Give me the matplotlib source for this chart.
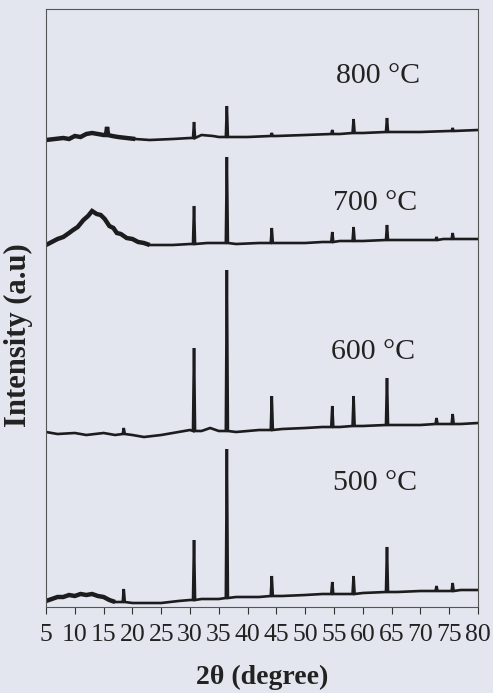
import matplotlib
matplotlib.use("Agg")
import matplotlib.pyplot as plt
import numpy as np

# ---------------- data ----------------
x_ticks = [5, 10, 15, 20, 25, 30, 35, 40, 45, 50, 55, 60, 65, 70, 75, 80]
labels = ["800 °C", "700 °C", "600 °C", "500 °C"]

# 800 °C
b800_x = [5, 6.5, 8, 9, 10, 11, 12, 13, 14, 15, 16.5, 17.5, 19, 20.5, 23, 27, 30, 32, 34, 35, 40, 45, 50, 56, 60, 66, 70, 75, 80]
b800_y = [465, 466, 467, 466, 469, 468, 471, 472, 471, 470, 469, 468, 467, 466, 465, 466, 467, 470, 469, 468, 468, 469, 470, 471, 472, 473, 473, 474, 475]
p800_pos = [15.6, 30.7, 36.4, 44.2, 54.7, 58.4, 64.2, 75.6]
p800_foot = [470, 467, 468, 469, 471, 472, 473, 474]
p800_top = [478, 483, 499, 472, 475, 486, 487, 477]

# 700 °C
b700_x = [5, 6, 7, 8, 9, 9.7, 10.5, 11.5, 12.3, 13, 13.8, 14.5, 15.2, 16, 16.7, 17.3, 18, 19, 20, 21, 22, 23, 27, 30, 33, 35, 38, 42, 46, 50, 53, 56, 60, 66, 70, 74, 77, 80]
b700_y = [360, 363, 366, 368, 372, 375, 378, 385, 389, 394, 391, 390, 386, 379, 377, 372, 371, 367, 366, 363, 362, 360, 360, 361, 362, 362, 361, 362, 362, 362, 363, 364, 364, 365, 365, 366, 366, 366]
p700_pos = [30.7, 36.4, 44.2, 54.7, 58.4, 64.2, 72.8, 75.6]
p700_foot = [361, 362, 362, 363, 364, 365, 365, 366]
p700_top = [399, 448, 377, 373, 378, 380, 368, 372]

# 600 °C
b600_x = [5, 7, 10, 12, 15, 17, 20, 22, 25, 28, 30, 32, 33.5, 35, 38, 42, 46, 50, 53, 56, 60, 66, 70, 74, 77, 80]
b600_y = [173, 171, 172, 170, 172, 170, 170, 168, 170, 173, 175, 174, 177, 174, 173, 175, 176, 177, 178, 178, 179, 180, 180, 181, 181, 182]
p600_pos = [18.5, 30.7, 36.4, 44.2, 54.7, 58.4, 64.2, 72.8, 75.6]
p600_foot = [171, 174, 174, 175, 178, 179, 180, 181, 181]
p600_top = [177, 257, 335, 209, 199, 209, 227, 187, 191]

# 500 °C
b500_x = [5, 6, 7, 8, 9, 10, 11, 12, 13, 14, 15, 16, 17, 20, 25, 28, 30, 32, 35, 38, 42, 46, 50, 53, 56, 60, 66, 70, 74, 77, 80]
b500_y = [4, 6, 8, 8, 10, 9, 11, 10, 11, 9, 8, 5, 3, 2, 2, 4, 5, 6, 6, 8, 8, 9, 10, 11, 11, 12, 13, 14, 14, 15, 15]
p500_pos = [18.5, 30.7, 36.4, 44.2, 54.7, 58.4, 64.2, 72.8, 75.6]
p500_foot = [3, 5, 7, 9, 11, 11, 13, 14, 14]
p500_top = [16, 65, 156, 29, 23, 29, 58, 19, 22]

# label anchor positions (2theta, intensity)
label_x = [62.6, 62.1, 61.8, 62.1]
label_y = [529, 402, 253, 122]

# amorphous hump ranges (drawn as a noisy, thicker band)
hump_range = [(5, 22), (5, 23), None, (5, 17)]

traces = [
    (b800_x, b800_y, p800_pos, p800_foot, p800_top),
    (b700_x, b700_y, p700_pos, p700_foot, p700_top),
    (b600_x, b600_y, p600_pos, p600_foot, p600_top),
    (b500_x, b500_y, p500_pos, p500_foot, p500_top),
]

# ---------------- style ----------------
BG = "#e3e6ee"
INK = "#1c1c1e"
plt.rcParams["font.family"] = ["Liberation Serif", "DejaVu Serif"]

fig = plt.figure(figsize=(4.93, 6.93), dpi=100, facecolor=BG)
ax = fig.add_axes([46 / 493, 1 - 607 / 693, 432 / 493, 598 / 693])
ax.set_facecolor(BG)

half_w = 0.18
for (bx, by, pp, pf, pt), hr in zip(traces, hump_range):
    xs = list(bx)
    ys = list(by)
    for p, f, t in zip(pp, pf, pt):
        xs += [p - half_w, p, p + half_w]
        ys += [f, t, f]
    order = np.argsort(xs, kind="stable")
    xs = np.asarray(xs)[order]
    ys = np.asarray(ys)[order]
    ax.plot(xs, ys, color=INK, lw=1.9, solid_joinstyle="miter")
    if hr is not None:
        m = (xs >= hr[0]) & (xs <= hr[1])
        ax.plot(xs[m], ys[m], color=INK, lw=3.2, solid_capstyle="butt",
                solid_joinstyle="miter")

for txt, lx, ly in zip(labels, label_x, label_y):
    ax.text(lx, ly, txt, ha="center", va="center", fontsize=21.5, color="#222222")

ax.set_xlim(5, 80)
ax.set_ylim(-2, 596)
ax.set_xticks(x_ticks)
ax.set_xticklabels([str(v) for v in x_ticks])
ax.set_yticks([])
ax.tick_params(axis="x", direction="out", length=5, width=0.8, pad=7,
               labelsize=18.5, colors="#333333", labelcolor="#222222")
for s in ax.spines.values():
    s.set_color("#555555")
    s.set_linewidth(0.8)

ax.set_xlabel("2θ (degree)", fontsize=20, fontweight="bold", color="#222222", labelpad=14)
ax.set_ylabel("Intensity (a.u)", fontsize=22, fontweight="bold", color="#222222")
ax.yaxis.set_label_coords(-0.030, 0.455)

fig.savefig("out.png", dpi=100, facecolor=BG)
